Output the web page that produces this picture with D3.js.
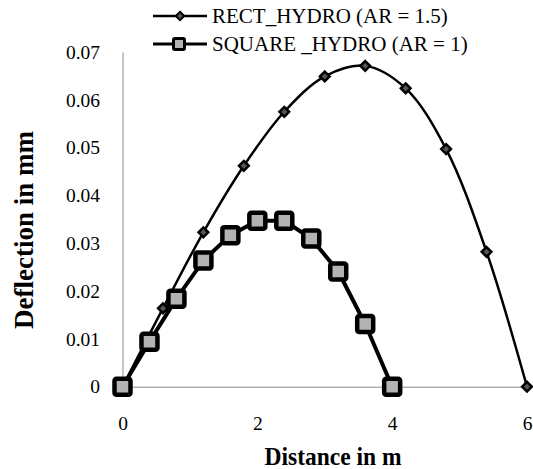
<!DOCTYPE html>
<html>
<head>
<meta charset="utf-8">
<script src="https://cdn.jsdelivr.net/npm/d3@7"></script>
<style>
	body { margin: 0; background: #fff; }
	svg { display: block; }
</style>
</head>
<body>
<div id="chart"></div>
<script>
// Chart values
var rectDistance = [ 0, 0.6, 1.2, 1.8, 2.4, 3.0, 3.6, 4.2, 4.8, 5.4, 6.0 ];
var rectDeflection = [ 0, 0.0164, 0.0323, 0.0462, 0.0575, 0.0649, 0.0671, 0.0624, 0.0497, 0.0282, 0 ];

var squareDistance = [ 0, 0.4, 0.8, 1.2, 1.6, 2.0, 2.4, 2.8, 3.2, 3.6, 4.0 ];
var squareDeflection = [ 0, 0.0094, 0.0184, 0.0264, 0.0317, 0.0347, 0.0347, 0.031, 0.0241, 0.0131, 0 ];

var xTicks = [ 0, 2, 4, 6 ];
var yTicks = [ 0, 0.01, 0.02, 0.03, 0.04, 0.05, 0.06, 0.07 ];
var yTickLabels = [ "0", "0.01", "0.02", "0.03", "0.04", "0.05", "0.06", "0.07" ];

var seriesNames = [ "RECT_HYDRO (AR = 1.5)", "SQUARE _HYDRO (AR = 1)" ];

var zip = function( xs, ys )
{
	return xs.map( function( x, i ) { return { x: x, y: ys[ i ] }; } );
};

var width = 533, height = 469;
var font = "Liberation Serif, Times New Roman, Times, DejaVu Serif, serif";

var svg = d3.select( "#chart" ).append( "svg" )
	.attr( "width", width )
	.attr( "height", height )
	.attr( "font-family", font );

var scale = {
	x: d3.scaleLinear().domain( [ 0, 6 ] ).range( [ 122.5, 527 ] ),
	y: d3.scaleLinear().domain( [ 0, 0.07 ] ).range( [ 386.7, 52 ] )
};

// Axes
var xAxis = svg.append( "g" )
	.attr( "transform", "translate(0," + scale.y( 0 ) + ")" )
	.call( d3.axisBottom( scale.x ).tickValues( xTicks ).tickSize( 0 ).tickPadding( 29 ).tickFormat( d3.format( "d" ) ) );

var yAxis = svg.append( "g" )
	.attr( "transform", "translate(" + scale.x( 0 ) + ",0)" )
	.call( d3.axisLeft( scale.y ).tickValues( yTicks ).tickSize( 0 ).tickPadding( 22.5 )
		.tickFormat( function( d, i ) { return yTickLabels[ i ]; } ) );

[ xAxis, yAxis ].forEach( function( axis ) {
	axis.attr( "font-family", font ).attr( "font-size", 19.5 );
	axis.select( ".domain" ).attr( "stroke", "#8c8c8c" ).attr( "stroke-width", 1 );
	axis.selectAll( "text" ).attr( "fill", "#000" );
} );

// Axis titles
svg.append( "text" )
	.attr( "transform", "translate(33,230) rotate(-90)" )
	.attr( "text-anchor", "middle" )
	.attr( "font-size", 27 )
	.attr( "font-weight", "bold" )
	.text( "Deflection in mm" );

svg.append( "text" )
	.attr( "x", 333 )
	.attr( "y", 465 )
	.attr( "text-anchor", "middle" )
	.attr( "textLength", 137 )
	.attr( "lengthAdjust", "spacingAndGlyphs" )
	.attr( "font-size", 25 )
	.attr( "font-weight", "bold" )
	.text( "Distance in m" );

// RECT series: smooth line, small diamonds
var rectData = zip( rectDistance, rectDeflection );
var squareData = zip( squareDistance, squareDeflection );

var smoothLine = d3.line()
	.x( function( d ) { return scale.x( d.x ); } )
	.y( function( d ) { return scale.y( d.y ); } )
	.curve( d3.curveCatmullRom.alpha( 0.5 ) );

var straightLine = d3.line()
	.x( function( d ) { return scale.x( d.x ); } )
	.y( function( d ) { return scale.y( d.y ); } );

var diamond = d3.symbol().type( d3.symbolDiamond2 ).size( 60 );

svg.append( "path" )
	.datum( rectData )
	.attr( "d", smoothLine )
	.attr( "fill", "none" )
	.attr( "stroke", "#000" )
	.attr( "stroke-width", 2.5 );

svg.append( "g" )
	.selectAll( "path" )
	.data( rectData )
	.enter()
	.append( "path" )
	.attr( "transform", function( d ) { return "translate(" + scale.x( d.x ) + "," + scale.y( d.y ) + ")"; } )
	.attr( "d", diamond )
	.attr( "fill", "#555" )
	.attr( "stroke", "#000" )
	.attr( "stroke-width", 2.5 );

// SQUARE series: thick straight line, big grey squares
svg.append( "path" )
	.datum( squareData )
	.attr( "d", straightLine )
	.attr( "fill", "none" )
	.attr( "stroke", "#000" )
	.attr( "stroke-width", 4 );

var sq = 16;
svg.append( "g" )
	.selectAll( "rect" )
	.data( squareData )
	.enter()
	.append( "rect" )
	.attr( "x", function( d ) { return scale.x( d.x ) - sq / 2; } )
	.attr( "y", function( d ) { return scale.y( d.y ) - sq / 2; } )
	.attr( "width", sq )
	.attr( "height", sq )
	.attr( "rx", 2 )
	.attr( "fill", "#b3b3b3" )
	.attr( "stroke", "#000" )
	.attr( "stroke-width", 4.5 );

// Legend
var legend = svg.append( "g" );

var rows = [ { y: 16, type: "diamond" }, { y: 44, type: "square" } ];

rows.forEach( function( row, i ) {
	legend.append( "line" )
		.attr( "x1", 153 ).attr( "x2", 207 )
		.attr( "y1", row.y ).attr( "y2", row.y )
		.attr( "stroke", "#000" )
		.attr( "stroke-width", i == 0 ? 2.5 : 3 );

	if( row.type == "diamond" )
	{
		legend.append( "path" )
			.attr( "transform", "translate(180," + row.y + ")" )
			.attr( "d", d3.symbol().type( d3.symbolDiamond2 ).size( 45 ) )
			.attr( "fill", "#555" )
			.attr( "stroke", "#000" )
			.attr( "stroke-width", 2 );
	}
	else
	{
		legend.append( "rect" )
			.attr( "x", 179 - 5.5 ).attr( "y", row.y - 5.5 )
			.attr( "width", 11 ).attr( "height", 11 )
			.attr( "rx", 1.5 )
			.attr( "fill", "#b3b3b3" )
			.attr( "stroke", "#000" )
			.attr( "stroke-width", 3 );
	}

	legend.append( "text" )
		.attr( "x", 212 )
		.attr( "y", row.y + 7 )
		.attr( "font-size", 21 )
		.text( seriesNames[ i ] );
} );
</script>
</body>
</html>
